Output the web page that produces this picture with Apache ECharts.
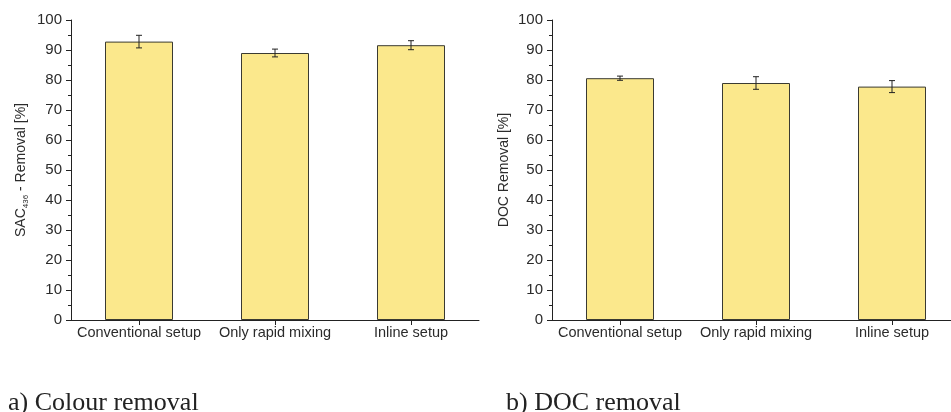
<!DOCTYPE html>
<html><head><meta charset="utf-8">
<script src="https://cdn.jsdelivr.net/npm/echarts@6/dist/echarts.min.js"></script>
<style>html,body{margin:0;padding:0;background:#fff}#c{width:951px;height:412px}</style>
</head><body><div id="c"></div>
<script>
const categories = ['Conventional setup', 'Only rapid mixing', 'Inline setup'];
const colourRemoval = [92.8, 89.0, 91.6];
const colourError = [2.1, 1.3, 1.5];
const docRemoval = [80.6, 79.0, 77.8];
const docError = [0.7, 2.1, 2.0];
const yMin = 0, yMax = 100, yStep = 10;

const textColor = '#2b2b2b';
const sans = 'Liberation Sans, Arial, sans-serif';

function errRender(params, api) {
  const i = api.value(0), v = api.value(1), e = api.value(2);
  const hi = api.coord([i, v + e]);
  const lo = api.coord([i, v - e]);
  const hw = 3;
  const style = { stroke: '#222', lineWidth: 1 };
  return { type: 'group', children: [
    { type: 'line', shape: { x1: hi[0], y1: hi[1], x2: lo[0], y2: lo[1] }, style },
    { type: 'line', shape: { x1: hi[0] - hw, y1: hi[1], x2: hi[0] + hw, y2: hi[1] }, style },
    { type: 'line', shape: { x1: lo[0] - hw, y1: lo[1], x2: lo[0] + hw, y2: lo[1] }, style }
  ]};
}

function xAx(gi) {
  return {
    type: 'category', gridIndex: gi, data: categories,
    axisLine: { lineStyle: { color: '#222', width: 1 } },
    axisTick: { show: true, alignWithLabel: true, length: 5, lineStyle: { color: '#222' } },
    axisLabel: { color: textColor, fontFamily: sans, fontSize: 14.5, margin: 5, interval: 0 }
  };
}
function yAx(gi, name, gap) {
  return {
    type: 'value', gridIndex: gi, min: yMin, max: yMax, interval: yStep,
    name: name, nameLocation: 'middle', nameGap: gap, nameRotate: 90,
    nameTextStyle: { color: textColor, fontFamily: sans, fontSize: 14,
      rich: {
        a: { color: textColor, fontFamily: sans, fontSize: 14 },
        b: { color: textColor, fontFamily: sans, fontSize: 8, verticalAlign: 'bottom', padding: [9, 0, 0, 0] }
      } },
    splitLine: { show: false },
    axisLine: { show: true, lineStyle: { color: '#222', width: 1 } },
    axisTick: { show: true, length: 5, lineStyle: { color: '#222' } },
    minorTick: { show: true, splitNumber: 2, length: 3, lineStyle: { color: '#222' } },
    axisLabel: { color: textColor, fontFamily: sans, fontSize: 15, margin: 9 }
  };
}
function barSeries(gi, vals) {
  return {
    type: 'bar', xAxisIndex: gi, yAxisIndex: gi, data: vals, barWidth: '50%',
    itemStyle: { color: '#fbe88c', borderColor: '#3a3a32', borderWidth: 1 },
    silent: true
  };
}
function errSeries(gi, vals, errs) {
  return {
    type: 'custom', xAxisIndex: gi, yAxisIndex: gi, renderItem: errRender,
    encode: { x: 0, y: 1 }, z: 5, silent: true, clip: false,
    data: categories.map((c, i) => [i, vals[i], errs[i]])
  };
}

const chart = echarts.init(document.getElementById('c'));
chart.setOption({
  animation: false,
  backgroundColor: '#fff',
  grid: [
    { left: 71, top: 20, width: 408, height: 300, outerBoundsMode: 'none', containLabel: false },
    { left: 552, top: 20, width: 408, height: 300, outerBoundsMode: 'none', containLabel: false }
  ],
  xAxis: [xAx(0), xAx(1)],
  yAxis: [yAx(0, '{a|SAC}{b|436}{a| - Removal [%]}', 41), yAx(1, 'DOC Removal [%]', 41)],
  series: [
    barSeries(0, colourRemoval), errSeries(0, colourRemoval, colourError),
    barSeries(1, docRemoval), errSeries(1, docRemoval, docError)
  ],
  title: [
    { text: 'a) Colour removal', left: 3, top: 385,
      textStyle: { fontFamily: 'Liberation Serif, Times New Roman, serif', fontSize: 26, fontWeight: 'normal', color: '#222' } },
    { text: 'b) DOC removal', left: 501, top: 385,
      textStyle: { fontFamily: 'Liberation Serif, Times New Roman, serif', fontSize: 26, fontWeight: 'normal', color: '#222' } }
  ]
});
</script></body></html>
